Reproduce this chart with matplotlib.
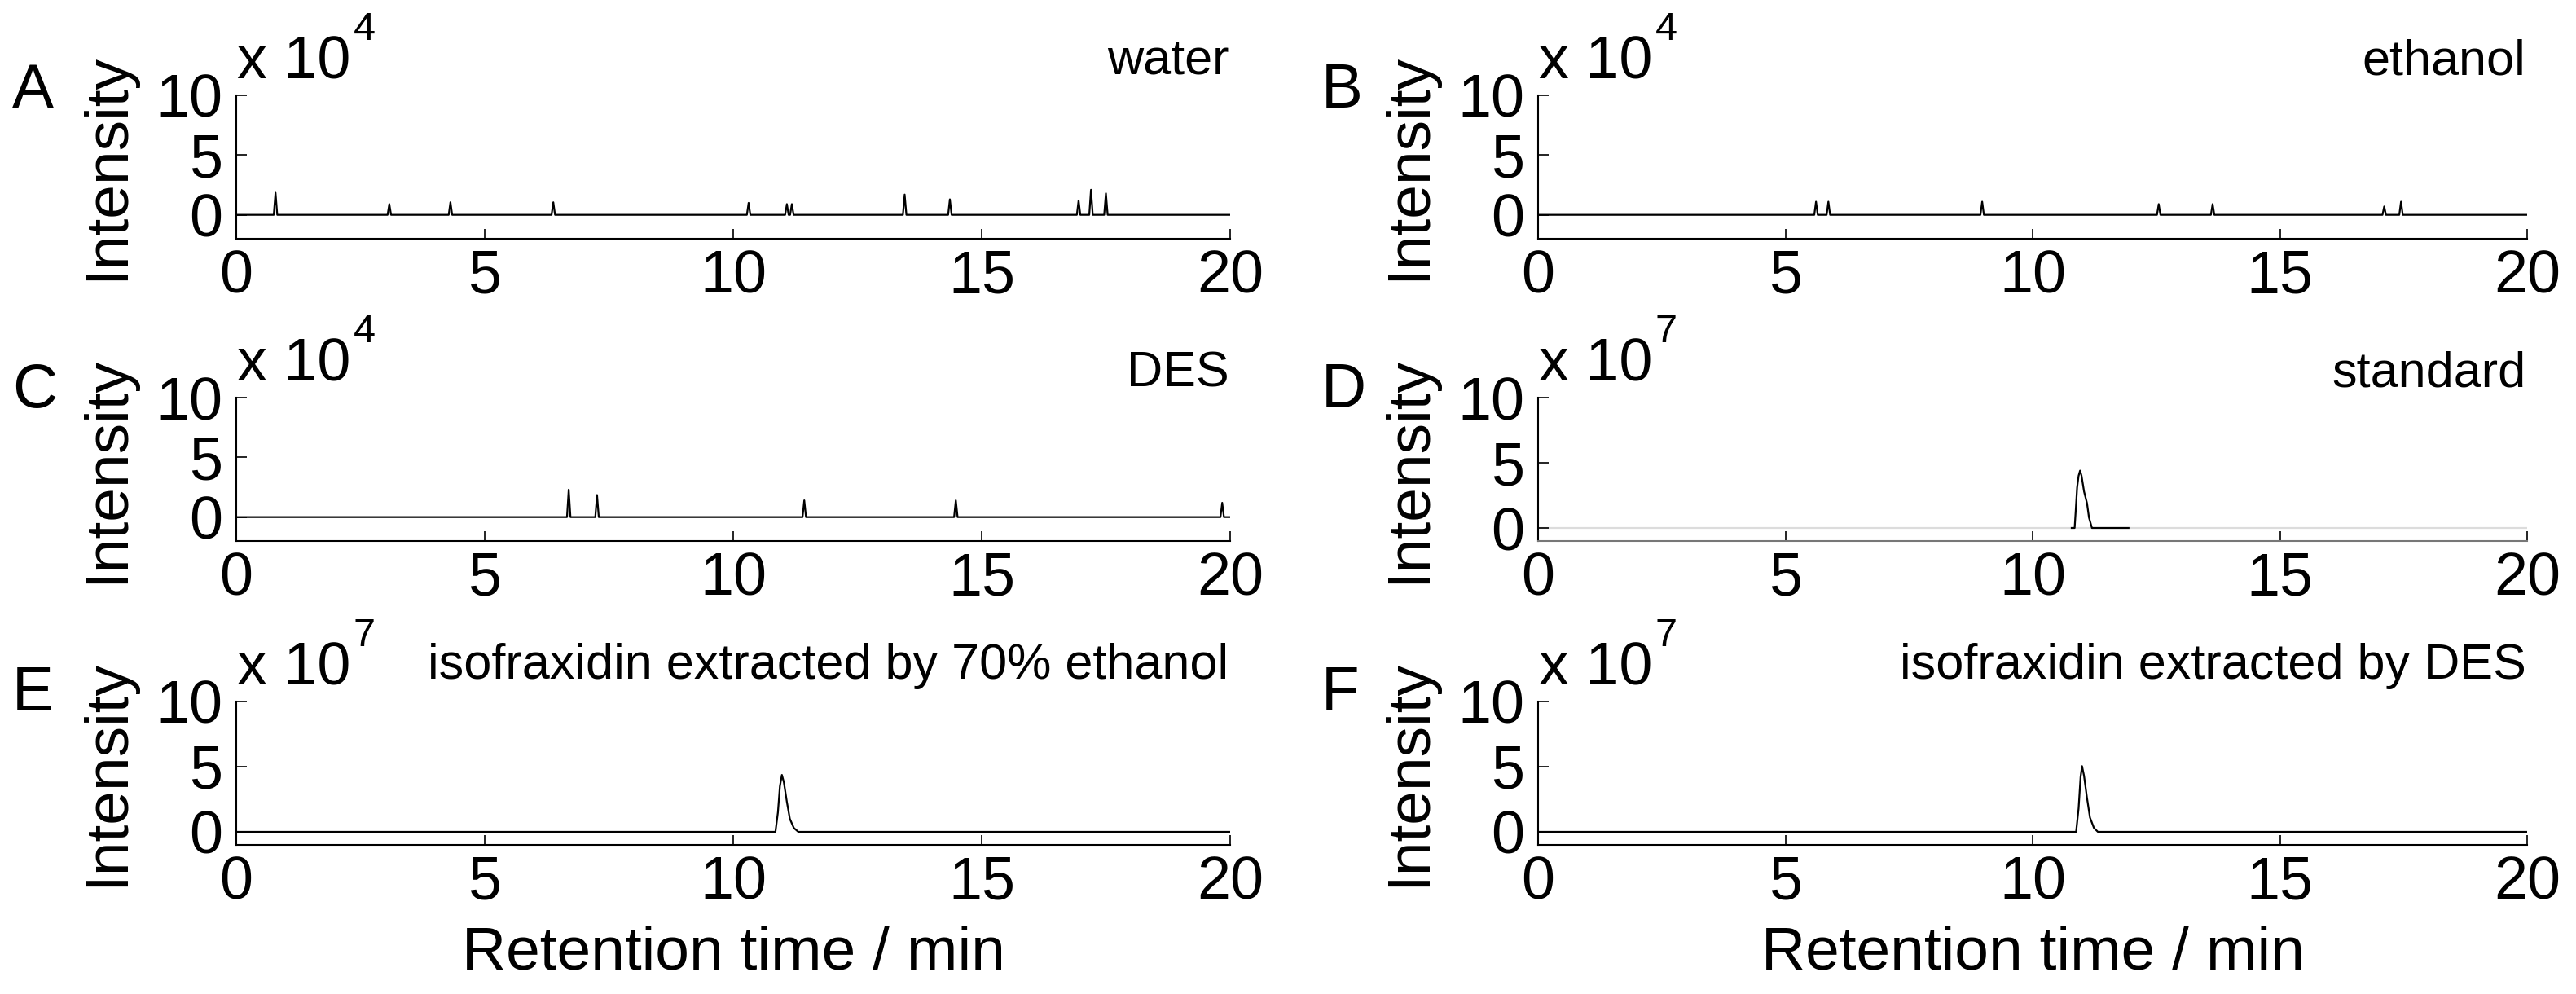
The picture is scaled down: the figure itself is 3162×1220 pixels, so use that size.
import numpy as np
import matplotlib.pyplot as plt

plt.rcParams['font.family'] = ['Liberation Sans', 'DejaVu Sans']

W, H = 3162, 1220

x_ticks = [0, 5, 10, 15, 20]
y_ticks = [0, 5, 10]

# A: water blank (intensity in units of 1e4)
water_rt = [0.79, 3.08, 4.31, 6.38, 10.31, 11.08, 11.18, 13.45, 14.36, 16.95, 17.20, 17.50]
water_h = [1.85, 0.9, 1.05, 1.05, 1.0, 0.9, 0.9, 1.7, 1.3, 1.2, 2.1, 1.8]

# B: ethanol blank (1e4)
ethanol_rt = [5.62, 5.87, 8.98, 12.55, 13.64, 17.11, 17.45]
ethanol_h = [1.1, 1.1, 1.1, 0.9, 0.9, 0.7, 1.1]

# C: DES blank (1e4)
des_rt = [6.69, 7.26, 11.43, 14.48, 19.84]
des_h = [2.3, 1.85, 1.4, 1.4, 1.2]

# D: isofraxidin standard (1e7), only the recorded segment around the peak
std_t = [10.79, 10.85, 10.87, 10.90, 10.93, 10.96, 10.99, 11.04, 11.10, 11.14, 11.20, 11.94]
std_y = [0, 0, 1.2, 3.1, 4.0, 4.4, 4.0, 2.8, 1.9, 0.8, 0, 0]

# E: extracted by 70% ethanol (1e7)
eth_t = [0, 10.85, 10.90, 10.94, 10.98, 11.02, 11.08, 11.14, 11.22, 11.31, 20]
eth_y = [0, 0, 1.5, 3.5, 4.37, 3.8, 2.3, 1.0, 0.3, 0, 0]

# F: extracted by DES (1e7)
dese_t = [0, 10.88, 10.93, 10.97, 11.00, 11.04, 11.10, 11.16, 11.24, 11.32, 20]
dese_y = [0, 0, 1.8, 4.2, 5.04, 4.3, 2.6, 1.1, 0.3, 0, 0]


def spike_trace(rt, h, half=0.035):
    xs, ys = [0.0], [0.0]
    for t, v in sorted(zip(rt, h)):
        xs += [t - half, t, t + half]
        ys += [0.0, v, 0.0]
    xs.append(20.0)
    ys.append(0.0)
    return xs, ys


fig = plt.figure(figsize=(W / 100, H / 100), dpi=100)

col_left = [290, 1888]
col_width = [1220, 1214]
row_top = [117, 488, 861]
ax_h = 176
letter_x = [15, 1622]
letter_base = [132, 500, 872]
title_off = [18, 9.5, 20]

panels = [
    ('A', 'water', '4', -2, spike_trace(water_rt, water_h), 0, 0),
    ('B', 'ethanol', '4', -2, spike_trace(ethanol_rt, ethanol_h), 1, 0),
    ('C', 'DES', '4', -2, spike_trace(des_rt, des_h), 0, 1),
    ('D', 'standard', '7', -1, (std_t, std_y), 1, 1),
    ('E', 'isofraxidin extracted by 70% ethanol', '7', -1, (eth_t, eth_y), 0, 2),
    ('F', 'isofraxidin extracted by DES', '7', -1, (dese_t, dese_y), 1, 2),
]

for letter, title, expo, ymin, (xs, ys), c, r in panels:
    left, width, top = col_left[c], col_width[c], row_top[r]
    ax = fig.add_axes([left / W, 1 - (top + ax_h) / H, width / W, ax_h / H])

    if letter == 'D':
        ax.axhline(0, color='#dcdcdc', lw=1.6, zorder=1)
    ax.plot(xs, ys, color='black', lw=1.6, zorder=2)

    ax.set_xlim(0, 20)
    ax.set_ylim(ymin, 10)
    ax.set_xticks(x_ticks)
    ax.set_yticks(y_ticks)
    ax.spines['top'].set_visible(False)
    ax.spines['right'].set_visible(False)
    for s in ('left', 'bottom'):
        ax.spines[s].set_linewidth(1.5)
    if letter == 'D':
        ax.spines['bottom'].set_color('#777777')
    ax.tick_params(direction='in', length=9, width=1.2, labelsize=53)
    ax.tick_params(axis='x', pad=9)
    ax.tick_params(axis='y', pad=12)

    # exponent label "x 10^n"
    base = ax.annotate('x 10', xy=(0, 1), xycoords='axes fraction', xytext=(1, 15),
                       textcoords='offset points', fontsize=53, ha='left', va='baseline')
    ax.annotate(expo, xy=(1, 0), xycoords=base, xytext=(2, 45),
                textcoords='offset points', fontsize=35, ha='left', va='baseline')

    ax.annotate(title, xy=(1, 1), xycoords='axes fraction', xytext=(-1, title_off[r]),
                textcoords='offset points', fontsize=44, ha='right', va='baseline')

    fig.text(letter_x[c] / W, 1 - letter_base[r] / H, letter, fontsize=55,
             ha='left', va='baseline')
    fig.text((left - 158) / W, 1 - (top + ax_h / 2) / H, 'Intensity', fontsize=54,
             rotation=90, ha='center', va='center')
    if r == 2:
        fig.text((left + width / 2) / W, 1 - 1190 / H, 'Retention time / min',
                 fontsize=54, ha='center', va='baseline')

fig.savefig('out.png', dpi=100)
